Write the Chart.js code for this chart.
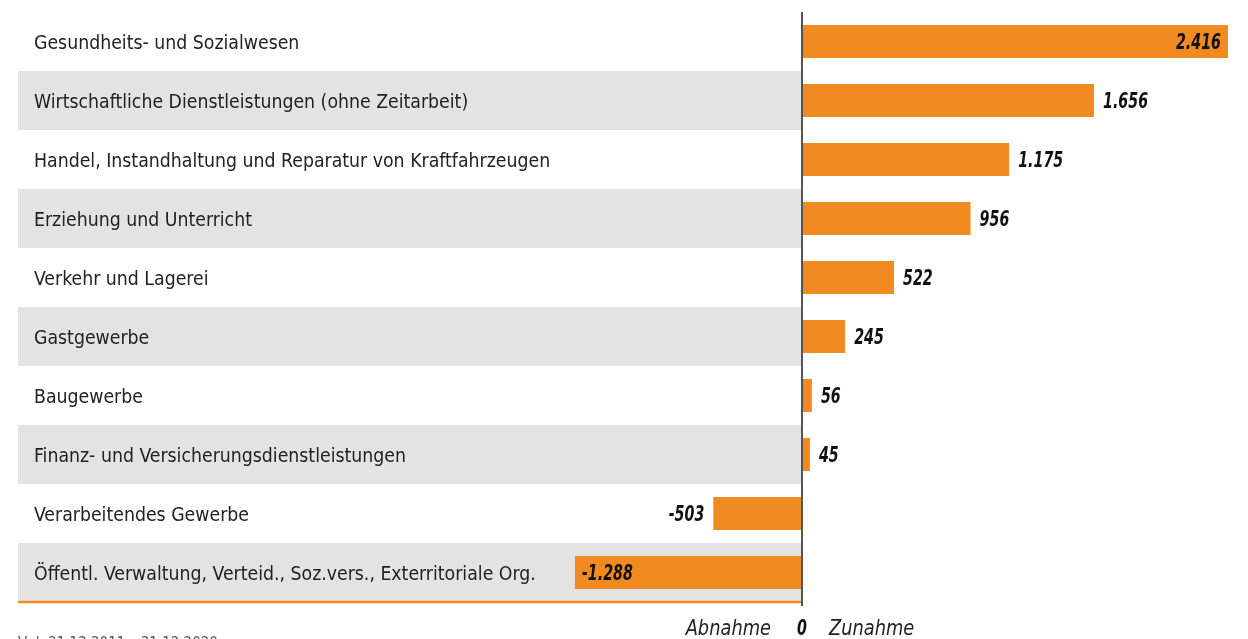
<!DOCTYPE html>
<html lang="de">
<head>
<meta charset="utf-8">
<script src="https://cdn.jsdelivr.net/npm/chart.js@4/dist/chart.umd.min.js"></script>
<style>
  html, body { margin: 0; padding: 0; background: #fff; }
  #wrap { width: 1248px; height: 639px; position: relative; }
</style>
</head>
<body>
<div id="wrap"><canvas id="chart"></canvas></div>
<script>
'use strict';

// ===== Daten =====
const categories = [
  'Gesundheits- und Sozialwesen',
  'Wirtschaftliche Dienstleistungen (ohne Zeitarbeit)',
  'Handel, Instandhaltung und Reparatur von Kraftfahrzeugen',
  'Erziehung und Unterricht',
  'Verkehr und Lagerei',
  'Gastgewerbe',
  'Baugewerbe',
  'Finanz- und Versicherungsdienstleistungen',
  'Verarbeitendes Gewerbe',
  'Öffentl. Verwaltung, Verteid., Soz.vers., Exterritoriale Org.',
];
const values = [2416, 1656, 1175, 956, 522, 245, 56, 45, -503, -1288];
const axisLabels = ['Abnahme', '0', 'Zunahme'];
const footNote = 'Vgl. 31.12.2011 – 31.12.2020';

// ===== Stil =====
const ORANGE = '#f18a21';
const STRIPE = '#e3e3e3';
const TEXT   = '#222222';
const FAMILY = '"Liberation Sans Narrow", "DejaVu Sans Condensed", Lato, sans-serif';
const LABEL_FONT = '19.3px ' + FAMILY;
const VALUE_FONT = 'italic bold 22px ' + FAMILY;
const AXIS_FONT  = 'italic 22px ' + FAMILY;

const fmt = v => v.toLocaleString('de-DE');

// Text mit horizontaler Stauchung (schmale Schrift nachbilden)
function drawText(ctx, text, x, y, align, sx) {
  ctx.save();
  ctx.translate(x, y);
  ctx.scale(sx, 1);
  ctx.textAlign = align;
  ctx.fillText(text, 0, 0);
  ctx.restore();
}

const maxVal = Math.max(...values);
const minVal = Math.min(...values);

// Streifen, Kategorien, Nulllinie, Werte
const decorPlugin = {
  id: 'decor',
  beforeDatasetsDraw(chart) {
    const { ctx, scales: { x, y } } = chart;
    const zero = x.getPixelForValue(0);
    const band = y.getPixelForValue(1) - y.getPixelForValue(0);
    ctx.save();
    categories.forEach((c, i) => {
      const cy = y.getPixelForValue(i);
      if (i % 2 === 1) {
        ctx.fillStyle = STRIPE;
        ctx.fillRect(18, cy - band / 2, zero - 18, band);
      }
      ctx.fillStyle = TEXT;
      ctx.font = LABEL_FONT;
      ctx.textAlign = 'left';
      ctx.textBaseline = 'middle';
      ctx.fillText(c, 34, cy + 2);
    });
    ctx.restore();
  },
  afterDatasetsDraw(chart) {
    const { ctx, chartArea, scales: { x, y } } = chart;
    const zero = x.getPixelForValue(0);
    ctx.save();
    // Linie unten
    ctx.strokeStyle = ORANGE;
    ctx.lineWidth = 2.5;
    ctx.beginPath();
    ctx.moveTo(18, chartArea.bottom);
    ctx.lineTo(zero, chartArea.bottom);
    ctx.stroke();
    // Nulllinie
    ctx.strokeStyle = '#555';
    ctx.lineWidth = 2;
    ctx.beginPath();
    ctx.moveTo(zero, chartArea.top);
    ctx.lineTo(zero, chartArea.bottom + 4);
    ctx.stroke();

    // Werte
    ctx.font = VALUE_FONT;
    ctx.fillStyle = '#111';
    ctx.textBaseline = 'middle';
    values.forEach((v, i) => {
      const cy = y.getPixelForValue(i) + 2;
      const end = x.getPixelForValue(v);
      const inside = v === maxVal || v === minVal;
      if (v >= 0) {
        drawText(ctx, fmt(v), inside ? end - 7 : end + 9, cy, inside ? 'right' : 'left', 0.72);
      } else {
        drawText(ctx, fmt(v), inside ? end + 7 : end - 9, cy, inside ? 'left' : 'right', 0.72);
      }
    });

    // Achsenbeschriftung
    const ay = 629;
    ctx.fillStyle = TEXT;
    ctx.font = AXIS_FONT;
    drawText(ctx, axisLabels[0], zero - 31, ay, 'right', 0.9);
    drawText(ctx, axisLabels[2], zero + 27, ay, 'left', 0.9);
    ctx.font = VALUE_FONT;
    ctx.fillStyle = '#111';
    drawText(ctx, axisLabels[1], zero, ay, 'center', 0.72);

    // abgeschnittene Fussnote
    ctx.font = '15px ' + FAMILY;
    ctx.fillStyle = '#555';
    ctx.textAlign = 'left';
    ctx.textBaseline = 'alphabetic';
    ctx.fillText(footNote, 18, 648);
    ctx.restore();
  },
};

new Chart(document.getElementById('chart'), {
  type: 'bar',
  data: {
    labels: categories,
    datasets: [{
      data: values,
      backgroundColor: ORANGE,
      borderWidth: 0,
      categoryPercentage: 1,
      barPercentage: 0.56,
    }],
  },
  options: {
    indexAxis: 'y',
    responsive: true,
    maintainAspectRatio: false,
    animation: false,
    layout: { padding: { left: 572.8, right: 15.8, top: 12, bottom: 37 } },
    plugins: {
      legend: { display: false },
      tooltip: { enabled: false },
    },
    scales: {
      x: {
        display: false,
        min: -1300,
        max: 2440,
      },
      y: {
        display: false,
        grid: { display: false },
      },
    },
  },
  plugins: [decorPlugin],
});
</script>
</body>
</html>
